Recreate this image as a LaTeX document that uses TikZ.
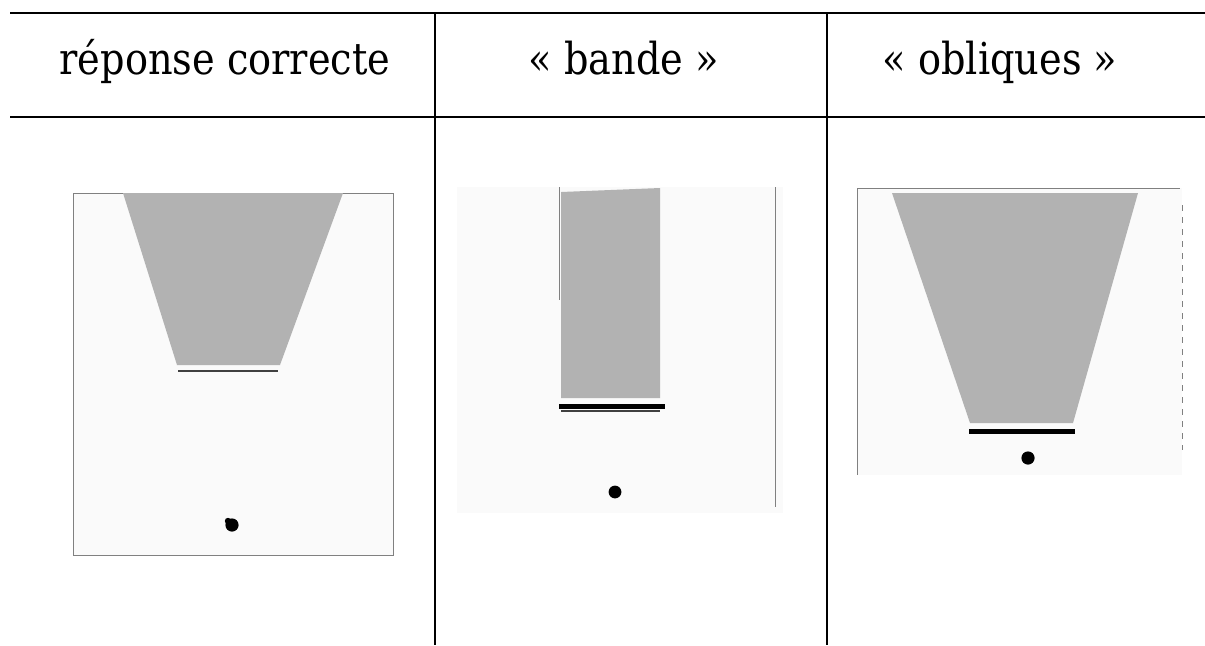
\documentclass[tikz,border=0pt]{standalone}
\usepackage{fontspec}
\setmainfont{DejaVu Serif}[FakeStretch=0.87]
\begin{document}
\begin{tikzpicture}[x=0.5pt,y=-0.5pt,
  tablerule/.style={line width=1pt},
  scanbg/.style={fill=black!2},
  scanedge/.style={draw=black!50,line width=0.45pt},
  shapefill/.style={fill=black!30},
  barthick/.style={line width=2.5pt},
  barthin/.style={draw=black!75,line width=0.6pt},
  blob/.style={fill=black},
  hdr/.style={font=\fontsize{22}{26}\selectfont,anchor=base}]
\useasboundingbox (0,0) rectangle (1205,645);
% table rules
\draw[tablerule] (10,13)--(1205,13);
\draw[tablerule] (10,117)--(1205,117);
\draw[tablerule] (435,13)--(435,645);
\draw[tablerule] (827,13)--(827,645);
% headers
\node[hdr] (hdrA) at (225,74) {réponse correcte};
\node[hdr] (hdrB) at (624,74) {« bande »};
\node[hdr] (hdrC) at (1000,74) {« obliques »};
% panel 1: correct answer
\fill[scanbg] (73,193) rectangle (393,555);
\draw[scanedge] (73,193) rectangle (393,555);
\fill[shapefill] (123,193)--(343,193)--(280,365)--(177,365)--cycle;
\draw[barthin] (178,371)--(278,371);
\fill[blob] (232,525) circle[radius=3.3pt];
\fill[blob] (228,521) circle[radius=1.6pt];
% panel 2: band
\fill[scanbg] (457,187) rectangle (783,513);
\draw[scanedge] (775,187)--(775,507);
\draw[scanedge] (559,187)--(559,300);
\fill[shapefill] (561,192)--(660,188)--(660,398)--(561,398)--cycle;
\draw[barthick] (559,406)--(665,406);
\draw[barthin] (561,411)--(660,411);
\fill[blob] (615,492) circle[radius=3.2pt];
% panel 3: obliques
\fill[scanbg] (857,188) rectangle (1182,475);
\draw[scanedge] (857,188)--(857,475);
\draw[scanedge] (857,188)--(1180,188);
\draw[scanedge,dashed] (1182,205)--(1182,450);
\fill[shapefill] (892,193)--(1138,193)--(1073,423)--(970,423)--cycle;
\draw[barthick] (969,431)--(1075,431);
\fill[blob] (1028,458) circle[radius=3.3pt];
\end{tikzpicture}
\end{document}
